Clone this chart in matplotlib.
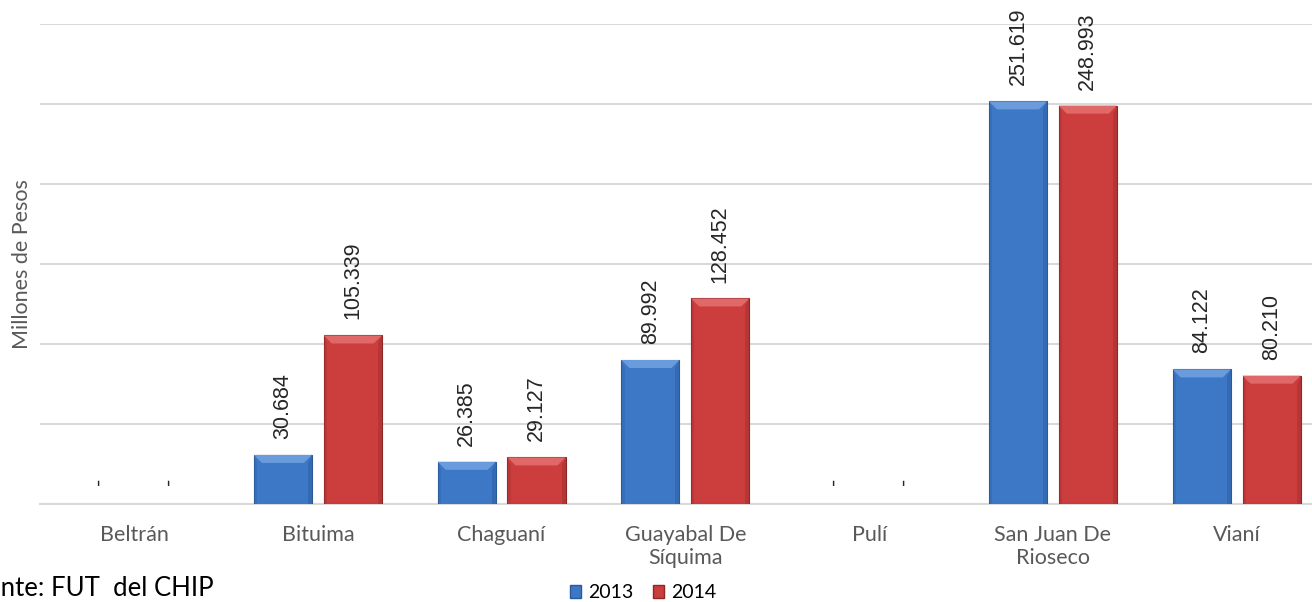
import numpy as np
import matplotlib
matplotlib.use("Agg")
import matplotlib.pyplot as plt
from matplotlib.patches import Patch, Polygon

# data (millones de pesos)
categories = ["Beltrán", "Bituima", "Chaguaní", "Guayabal De\nSíquima",
              "Pulí", "San Juan De\nRioseco", "Vianí"]
v2013 = [0, 30.684, 26.385, 89.992, 0, 251.619, 84.122]
v2014 = [0, 105.339, 29.127, 128.452, 0, 248.993, 80.210]
years = ["2013", "2014"]

blue = "#3C78C6"
red = "#CC3D3D"
gray_txt = "#595959"

fig = plt.figure(figsize=(13.12, 6.02), dpi=100)
ax = fig.add_axes([40 / 1312, 1 - 504 / 602, 1 - 40 / 1312, (504 - 24) / 602])

x = np.arange(len(categories))
w = 0.316
off = 0.19

b1 = ax.bar(x - off, v2013, w, color=blue, edgecolor="#2A5A9A", linewidth=0.8, zorder=3)
b2 = ax.bar(x + off, v2014, w, color=red, edgecolor="#8E2828", linewidth=0.8, zorder=3)
for r in list(b1) + list(b2):
    if r.get_height() == 0:
        r.set_linewidth(0)

ax.set_xlim(-0.512, 6.41)
ax.set_ylim(0, 300)
ax.set_yticks(np.arange(0, 301, 50))
ax.set_yticklabels([])
ax.tick_params(axis="y", length=0)
ax.tick_params(axis="x", length=0, pad=15)
ax.grid(axis="y", color="#D9D9D9", linewidth=1.5, zorder=0)
for s in ["top", "right", "left"]:
    ax.spines[s].set_visible(False)
ax.spines["bottom"].set_color("#D9D9D9")
ax.spines["bottom"].set_linewidth(1.5)

ax.set_xticks(x)
ax.set_xticklabels(categories, fontsize=15.5, color=gray_txt, family="Lato", linespacing=1.2)
ax.set_ylabel("Millones de Pesos", fontsize=15.5, color=gray_txt, family="Lato", labelpad=2)

# bevel effect on bars
fig.canvas.draw()
inv = ax.transData.inverted()
p0 = inv.transform((0, 0))
p1 = inv.transform((8, 8))
bx, by = p1[0] - p0[0], p1[1] - p0[1]
for bars, light, dark in [(b1, "#6A9CDD", "#2F62A6"), (b2, "#E06868", "#A83030")]:
    for r in bars:
        h = r.get_height()
        if h <= 0:
            continue
        x0, x1 = r.get_x(), r.get_x() + r.get_width()
        t = min(by, h / 2)
        ax.add_patch(Polygon([(x0, h), (x1, h), (x1 - bx, h - t), (x0 + bx, h - t)],
                             closed=True, color=light, lw=0, zorder=4))
        ax.add_patch(Polygon([(x1, h), (x1, 0), (x1 - bx * 0.5, 0), (x1 - bx * 0.5, h - t)],
                             closed=True, color=dark, lw=0, zorder=4, alpha=0.6))
        ax.add_patch(Polygon([(x0, h), (x0, 0), (x0 + bx * 0.4, 0), (x0 + bx * 0.4, h - t)],
                             closed=True, color=dark, lw=0, zorder=4, alpha=0.4))

# data labels
for bars, vals in [(b1, v2013), (b2, v2014)]:
    for r, v in zip(bars, vals):
        lab = f"{v:.3f}" if v > 0 else "-"
        dy = 11.5 if v > 0 else 14
        ax.annotate(lab, (r.get_x() + r.get_width() / 2, v), xytext=(0, dy),
                    textcoords="offset points", rotation=90, ha="center", va="bottom",
                    fontsize=15.5, family="Liberation Sans", color="#262626", zorder=5)

handles = [Patch(facecolor=blue, edgecolor="#2A5A9A"), Patch(facecolor=red, edgecolor="#8E2828")]
fig.legend(handles, years, loc="center", bbox_to_anchor=(643 / 1312, 1 - 593 / 602),
           ncol=2, frameon=False, prop={"family": "Lato", "size": 14},
           handlelength=0.6, handleheight=0.6, handletextpad=0.35, columnspacing=1.0,
           borderpad=0.1)

# source note, cut at the left edge as in the original
fig.text(214 / 1312, 1 - 588 / 602, "Fuente: FUT  del CHIP", ha="right", va="center",
         fontsize=18.5, family="Lato", color="#000000")

fig.savefig("out.png", dpi=100)
